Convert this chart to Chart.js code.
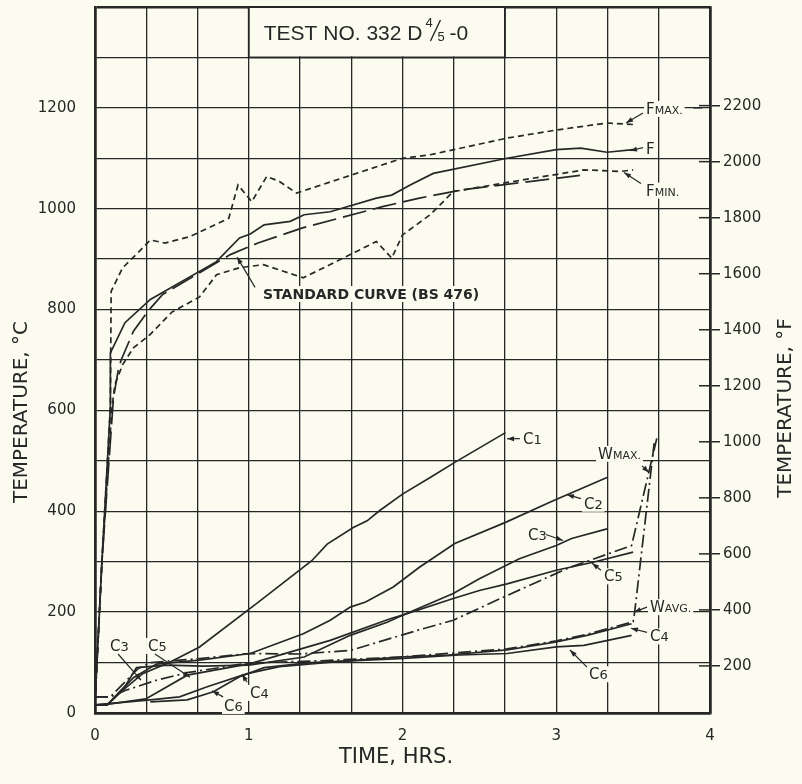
<!DOCTYPE html>
<html>
<head>
<meta charset="utf-8">
<script src="https://cdn.jsdelivr.net/npm/chart.js@4.4.1/dist/chart.umd.min.js"></script>
<style>
  html, body { margin: 0; padding: 0; background: #fbfbef; }
  canvas { display: block; }
</style>
</head>
<body>
<canvas id="chart" width="802" height="784"></canvas>
<script>
// Furnace curves (time in hours, temperature in °C)
const fTime = [0, 0.045, 0.1, 0.1, 0.195, 0.36, 0.79, 0.94, 1.01, 1.1, 1.27, 1.36, 1.53, 1.83, 1.93, 2.05, 2.2, 2.68, 3.0, 3.16, 3.33, 3.5];
const fTemp = [20, 300, 606, 714, 774, 820, 895, 942, 950, 968, 975, 988, 994, 1021, 1027, 1047, 1070, 1100, 1117, 1120, 1112, 1117];

const fMaxTime = [0, 0.045, 0.1, 0.105, 0.18, 0.29, 0.36, 0.455, 0.62, 0.87, 0.93, 1.02, 1.117, 1.2, 1.31, 2.0, 2.18, 2.68, 3.0, 3.33, 3.5];
const fMaxTemp = [20, 300, 606, 836, 883, 916, 938, 932, 945, 981, 1047, 1014, 1064, 1054, 1031, 1100, 1107, 1140, 1156, 1170, 1167];

const fMinTime = [0, 0.045, 0.11, 0.13, 0.18, 0.25, 0.36, 0.5, 0.68, 0.79, 0.94, 1.095, 1.355, 1.66, 1.83, 1.93, 2.0, 2.18, 2.33, 2.72, 3.18, 3.42, 3.5];
const fMinTemp = [20, 300, 606, 652, 691, 724, 751, 795, 825, 869, 883, 889, 863, 909, 935, 902, 948, 988, 1034, 1054, 1077, 1074, 1077];

const stdTime = [0, 0.045, 0.12, 0.15, 0.17, 0.25, 0.345, 0.44, 0.88, 1.06, 1.35, 1.87, 2.11, 2.4, 3.18];
const stdTemp = [20, 300, 625, 678, 700, 757, 797, 830, 909, 932, 962, 1004, 1021, 1038, 1067];

// Specimen thermocouples
const c1Time = [0, 0.08, 0.18, 0.31, 0.49, 0.68, 1.05, 1.41, 1.51, 1.68, 1.77, 1.85, 2.0, 2.18, 2.34, 2.67];
const c1Temp = [16, 16, 45, 78, 101, 131, 217, 302, 335, 368, 381, 401, 434, 467, 497, 556];

const c2Time = [0, 0.08, 0.25, 0.4, 0.68, 1.01, 1.355, 1.53, 1.66, 1.76, 1.94, 2.11, 2.34, 2.67, 2.98, 3.33];
const c2Temp = [16, 16, 70, 97, 105, 118, 157, 184, 210, 220, 250, 289, 336, 378, 421, 467];

const c3Time = [0, 0.08, 0.2, 0.27, 0.47, 0.7, 1.0, 1.36, 1.66, 1.9, 2.0, 2.33, 2.5, 2.76, 3.0, 3.1, 3.33];
const c3Temp = [16, 16, 55, 90, 95, 93, 95, 111, 154, 180, 194, 237, 266, 306, 332, 346, 365];

const c5Time = [0, 0.1, 0.33, 0.6, 1.01, 1.53, 1.92, 2.0, 2.33, 2.5, 2.68, 3.0, 3.24, 3.5];
const c5Temp = [16, 18, 28, 75, 98, 144, 187, 194, 227, 243, 256, 283, 299, 319];

const c4Time = [0, 0.36, 0.55, 0.73, 0.99, 1.2, 1.5, 1.98, 2.3, 2.68, 3.0, 3.2, 3.49];
const c4Temp = [16, 26, 32, 52, 78, 92, 100, 111, 115, 125, 141, 154, 177];

const c6Time = [0.36, 0.6, 0.77, 0.94, 1.1, 1.4, 1.98, 2.37, 2.68, 3.0, 3.18, 3.49];
const c6Temp = [22, 26, 42, 72, 90, 100, 108, 115, 118, 131, 134, 154];

const wMaxTime = [0, 0.1, 0.28, 0.36, 0.68, 1.0, 1.33, 1.66, 2.0, 2.11, 2.33, 2.68, 3.09, 3.49, 3.655];
const wMaxTemp = [32, 32, 88, 100, 108, 118, 117, 124, 155, 165, 184, 233, 289, 332, 546];

const wAvgTime = [0, 0.1, 0.2, 0.4, 0.6, 1.0, 1.5, 1.98, 2.68, 3.0, 3.2, 3.5, 3.51, 3.64];
const wAvgTemp = [32, 32, 45, 65, 80, 99, 104, 111, 127, 143, 156, 181, 200, 543];

// Axes
const xGrid = [0, 1, 2, 3, 4, 5, 6, 7, 8, 9, 10, 11, 12].map(i => i / 3);
const cGrid = [0, 100, 200, 300, 400, 500, 600, 700, 800, 900, 1000, 1100, 1200, 1300, 1400];
const fTicks = [200, 400, 600, 800, 1000, 1200, 1400, 1600, 1800, 2000, 2200];

const ink = "#272727";
const paper = "#fbfbef";
const sans = "'DejaVu Sans', sans-serif";
const arial = "'Liberation Sans', Arial, sans-serif";

const SOLID = [], SHORT = [6, 4], LONG = [24, 7], DASHDOT = [13, 4, 2, 4];

const series = [
    { label: "F", time: fTime, temp: fTemp, dash: SOLID },
    { label: "Fmax", time: fMaxTime, temp: fMaxTemp, dash: SHORT },
    { label: "Fmin", time: fMinTime, temp: fMinTemp, dash: SHORT },
    { label: "Standard", time: stdTime, temp: stdTemp, dash: LONG },
    { label: "C1", time: c1Time, temp: c1Temp, dash: SOLID },
    { label: "C2", time: c2Time, temp: c2Temp, dash: SOLID },
    { label: "C3", time: c3Time, temp: c3Temp, dash: SOLID },
    { label: "C4", time: c4Time, temp: c4Temp, dash: SOLID },
    { label: "C5", time: c5Time, temp: c5Temp, dash: SOLID },
    { label: "C6", time: c6Time, temp: c6Temp, dash: SOLID },
    { label: "Wmax", time: wMaxTime, temp: wMaxTemp, dash: DASHDOT },
    { label: "Wavg", time: wAvgTime, temp: wAvgTemp, dash: DASHDOT },
];

// Curve labels: text parts, anchor (t, °C), arrow from/to (t, °C)
const labels = [
    { parts: [["F", 15], ["MAX.", 11]], at: [3.584, 1188], arrow: [3.564, 1190, 3.454, 1170] },
    { parts: [["F", 15]], at: [3.584, 1109], arrow: [3.564, 1121, 3.48, 1115] },
    { parts: [["F", 15], ["MIN.", 11]], at: [3.584, 1026], arrow: [3.551, 1050, 3.441, 1072] },
    { parts: [["STANDARD CURVE (BS 476)", 14, "bold"]], at: [1.093, 821], arrow: [1.041, 844, 0.924, 904] },
    { parts: [["C", 15], ["1", 13]], at: [2.784, 534], arrow: [2.764, 544, 2.68, 544] },
    { parts: [["C", 15], ["2", 13]], at: [3.18, 405], arrow: [3.161, 425, 3.07, 433] },
    { parts: [["C", 15], ["3", 13]], at: [2.816, 344], arrow: [2.933, 354, 3.044, 342] },
    { parts: [["C", 15], ["5", 13]], at: [3.311, 261], arrow: [3.291, 283, 3.233, 297] },
    { parts: [["W", 15], ["MAX.", 11]], at: [3.272, 504], arrow: [3.558, 490, 3.603, 477] },
    { parts: [["W", 15], ["AVG.", 11]], at: [3.61, 200], arrow: [3.59, 210, 3.506, 200] },
    { parts: [["C", 15], ["4", 13]], at: [3.61, 142], arrow: [3.59, 160, 3.486, 168] },
    { parts: [["C", 15], ["6", 13]], at: [3.213, 67], arrow: [3.2, 91, 3.089, 125] },
    { parts: [["C", 15], ["3", 13]], at: [0.098, 123], arrow: [0.15, 117, 0.299, 65] },
    { parts: [["C", 15], ["5", 13]], at: [0.345, 123], arrow: [0.39, 117, 0.618, 71] },
    { parts: [["C", 15], ["4", 13]], at: [1.008, 30], arrow: [0.989, 61, 0.956, 77] },
    { parts: [["C", 15], ["6", 13]], at: [0.839, 4], arrow: [0.833, 32, 0.761, 44] },
];

function toPoints(t, v) {
    return t.map((x, i) => ({ x: x, y: v[i] }));
}

function drawArrow(ctx, x1, y1, x2, y2) {
    ctx.beginPath();
    ctx.moveTo(x1, y1);
    ctx.lineTo(x2, y2);
    ctx.stroke();
    const a = Math.atan2(y2 - y1, x2 - x1);
    ctx.beginPath();
    ctx.moveTo(x2, y2);
    ctx.lineTo(x2 - 7 * Math.cos(a) + 2.5 * Math.sin(a), y2 - 7 * Math.sin(a) - 2.5 * Math.cos(a));
    ctx.lineTo(x2 - 7 * Math.cos(a) - 2.5 * Math.sin(a), y2 - 7 * Math.sin(a) + 2.5 * Math.cos(a));
    ctx.closePath();
    ctx.fill();
}

// Annotations: °F inner ticks, title box, curve labels, axis titles
const annotate = {
    id: "annotate",
    afterDraw(chart) {
        const ctx = chart.ctx;
        const xs = chart.scales.x, ys = chart.scales.y;
        const px = t => xs.getPixelForValue(t);
        const py = v => ys.getPixelForValue(v);
        const area = chart.chartArea;
        ctx.save();
        ctx.strokeStyle = ink;
        ctx.fillStyle = ink;

        // inner half of the °F tick marks
        ctx.lineWidth = 1.5;
        fTicks.forEach(f => {
            const yy = py((f - 32) / 1.8);
            ctx.beginPath();
            ctx.moveTo(area.right - 11, yy);
            ctx.lineTo(area.right, yy);
            ctx.stroke();
        });

        // title box
        const bx1 = px(1), bx2 = px(8 / 3), by1 = py(1400), by2 = py(1300);
        ctx.fillStyle = paper;
        ctx.fillRect(bx1 + 1, by1 + 1, bx2 - bx1 - 2, by2 - by1 - 2);
        ctx.lineWidth = 1.8;
        ctx.strokeRect(bx1, by1, bx2 - bx1, by2 - by1);
        ctx.fillStyle = ink;
        ctx.textBaseline = "alphabetic";
        ctx.textAlign = "left";
        ctx.font = "21px " + arial;
        let tx = bx1 + 15;
        const base = by1 + 33;
        ctx.fillText("TEST NO. 332 D", tx, base);
        tx += ctx.measureText("TEST NO. 332 D").width + 3;
        ctx.font = "13px " + arial;
        ctx.fillText("4", tx, base - 13);
        ctx.lineWidth = 1.4;
        ctx.beginPath();
        ctx.moveTo(tx + 5, base + 1);
        ctx.lineTo(tx + 15, base - 20);
        ctx.stroke();
        ctx.fillText("5", tx + 12, base + 1);
        ctx.font = "21px " + arial;
        ctx.fillText("-0", tx + 24, base);

        // curve labels with arrows
        ctx.lineWidth = 1.2;
        labels.forEach(l => {
            const lx = px(l.at[0]), ly = py(l.at[1]);
            let w = 0;
            l.parts.forEach(p => {
                ctx.font = (p[2] || "") + " " + p[1] + "px " + sans;
                w += ctx.measureText(p[0]).width;
            });
            ctx.fillStyle = paper;
            ctx.fillRect(lx - 2, ly - 13, w + 4, 16);
            ctx.fillStyle = ink;
            let cx = lx;
            l.parts.forEach(p => {
                ctx.font = (p[2] || "") + " " + p[1] + "px " + sans;
                ctx.fillText(p[0], cx, ly);
                cx += ctx.measureText(p[0]).width;
            });
            const a = l.arrow;
            drawArrow(ctx, px(a[0]), py(a[1]), px(a[2]), py(a[3]));
        });

        // leader from FMAX. to the 2200 °F tick
        ctx.lineWidth = 1.5;
        ctx.beginPath();
        ctx.moveTo(px(3.89), py(1200));
        ctx.lineTo(px(3.95), py(1200));
        ctx.stroke();

        // axis titles
        ctx.font = "20px " + sans;
        ctx.textAlign = "center";
        ctx.textBaseline = "middle";
        ctx.save();
        ctx.translate(22, 412);
        ctx.rotate(-Math.PI / 2);
        ctx.fillText("TEMPERATURE, °C", 0, 0);
        ctx.restore();
        ctx.save();
        ctx.translate(786, 408);
        ctx.rotate(-Math.PI / 2);
        ctx.fillText("TEMPERATURE, °F", 0, 0);
        ctx.restore();
        ctx.font = "21px " + sans;
        ctx.fillText("TIME, HRS.", 396, 758);
        ctx.restore();
    },
};

const edge = (v, lo, hi) => Math.abs(v - lo) < 1e-6 || Math.abs(v - hi) < 1e-6;

// keep the plot area exactly where the reference has it
function noPad(s) {
    s.paddingTop = 0;
    s.paddingBottom = 0;
    s.paddingLeft = 0;
    s.paddingRight = 0;
}

new Chart(document.getElementById("chart"), {
    type: "line",
    data: {
        datasets: series.map(s => ({
            label: s.label,
            data: toPoints(s.time, s.temp),
            borderColor: ink,
            borderWidth: 1.7,
            borderDash: s.dash,
            pointRadius: 0,
            tension: 0,
            fill: false,
            yAxisID: "y",
        })),
    },
    options: {
        responsive: false,
        animation: false,
        devicePixelRatio: 1,
        layout: { padding: { top: 7, left: 0, right: 0, bottom: 0 } },
        plugins: {
            legend: { display: false },
            tooltip: { enabled: false },
        },
        scales: {
            x: {
                type: "linear",
                min: 0,
                max: 4,
                afterBuildTicks: s => { s.ticks = xGrid.map(v => ({ value: v })); },
                afterFit: s => { s.height = 71; noPad(s); },
                grid: {
                    color: ink,
                    lineWidth: c => (c.tick && edge(c.tick.value, 0, 4)) ? 2.5 : 1.3,
                    drawTicks: false,
                },
                border: { color: ink, width: 2.5 },
                ticks: {
                    color: ink,
                    padding: 14,
                    autoSkip: false,
                    maxRotation: 0,
                    font: { family: sans, size: 15 },
                    callback: v => Math.abs(v - Math.round(v)) < 1e-6 ? String(Math.round(v)) : "",
                },
            },
            y: {
                position: "left",
                min: 0,
                max: 1400,
                afterBuildTicks: s => { s.ticks = cGrid.map(v => ({ value: v })); },
                afterFit: s => { s.width = 95; noPad(s); },
                grid: {
                    color: ink,
                    lineWidth: c => (c.tick && edge(c.tick.value, 0, 1400)) ? 2.5 : 1.3,
                    drawTicks: false,
                },
                border: { color: ink, width: 2.5 },
                ticks: {
                    color: ink,
                    padding: 19,
                    autoSkip: false,
                    font: { family: sans, size: 15 },
                    callback: v => (v % 200 === 0 && v < 1400) ? String(v) : "",
                },
            },
            yF: {
                position: "right",
                min: 32,
                max: 2552,
                afterBuildTicks: s => { s.ticks = fTicks.map(v => ({ value: v })); },
                afterFit: s => { s.width = 92; noPad(s); },
                grid: {
                    drawOnChartArea: false,
                    drawTicks: true,
                    tickLength: 10,
                    color: ink,
                    lineWidth: 1.5,
                },
                border: { color: ink, width: 2.5 },
                ticks: {
                    color: ink,
                    padding: 3,
                    autoSkip: false,
                    font: { family: sans, size: 15 },
                    callback: v => String(v),
                },
            },
        },
    },
    plugins: [annotate],
});
</script>
</body>
</html>
